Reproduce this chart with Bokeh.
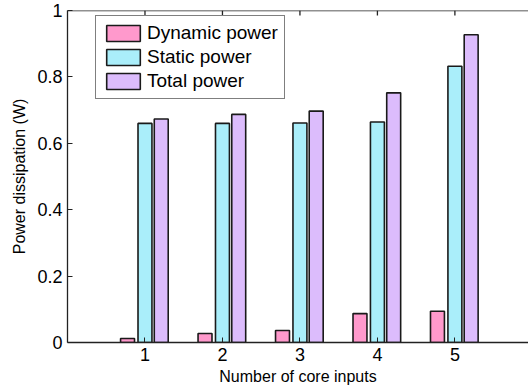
import numpy as np
from bokeh.plotting import figure
from bokeh.models import Range1d, FixedTicker, ColumnDataSource, Span
from bokeh.embed import file_html
from bokeh.resources import INLINE

cores = [1, 2, 3, 4, 5]
dynamic_power = [0.012, 0.027, 0.036, 0.087, 0.094]
static_power = [0.660, 0.660, 0.661, 0.664, 0.832]
total_power = [0.673, 0.687, 0.697, 0.752, 0.927]
series_names = ["Dynamic power", "Static power", "Total power"]
y_ticks = [0, 0.2, 0.4, 0.6, 0.8, 1]

FONT = "Liberation Sans"
colors = ["#ff99cc", "#aaeefa", "#dcbcfc"]
offsets = [-0.225, 0.0, 0.21]
bar_w = 0.18

p = figure(width=528, height=390, output_backend="svg", toolbar_location=None,
           x_range=Range1d(0, 5.95), y_range=Range1d(0, 1))
p.min_border_left = 67
p.min_border_right = 0
p.min_border_top = 10
p.min_border_bottom = 48
p.outline_line_color = None
p.grid.grid_line_color = None
p.background_fill_color = "white"
p.border_fill_color = "white"

x = np.array(cores, dtype=float)
for vals, name, col, off in zip([dynamic_power, static_power, total_power], series_names, colors, offsets):
    src = ColumnDataSource(dict(x=x + off, top=vals))
    p.vbar(x="x", top="top", width=bar_w, bottom=0, source=src, fill_color=col,
           line_color="#1a1a1a", line_width=1.6, legend_label=name)

# top frame line and inward ticks on the top edge
p.add_layout(Span(location=p.y_range.end, dimension="width", line_color="#222222", line_width=1.3))
p.ray(x=cores, y=[p.y_range.end] * len(cores), length=5, length_units="screen",
      angle=-np.pi / 2, line_color="#222222", line_width=1.3)

for ax in [p.xaxis[0], p.yaxis[0]]:
    ax.major_tick_in = 5
    ax.major_tick_out = 0
    ax.minor_tick_line_color = None
    ax.axis_line_color = "#222222"
    ax.axis_line_width = 1.3
    ax.major_tick_line_color = "#222222"
    ax.major_label_text_font = FONT
    ax.major_label_text_font_size = "18px"
    ax.major_label_text_color = "black"
    ax.axis_label_text_font = FONT
    ax.axis_label_text_font_style = "normal"
    ax.axis_label_text_color = "black"
    ax.axis_label_text_font_size = "16px"

p.xaxis[0].ticker = FixedTicker(ticks=cores)
p.yaxis[0].ticker = FixedTicker(ticks=y_ticks)
p.yaxis[0].major_label_overrides = {0: "0", 1: "1"}
p.xaxis[0].axis_label = "Number of core inputs"
p.xaxis[0].axis_label_standoff = 4
p.xaxis[0].major_label_standoff = 5
p.yaxis[0].axis_label = "Power dissipation (W)"
p.yaxis[0].axis_label_standoff = 6
p.yaxis[0].major_label_standoff = 5

lg = p.legend[0]
lg.location = (28, 243)
lg.border_line_color = "black"
lg.border_line_width = 1.5
lg.label_text_font = FONT
lg.label_text_font_size = "19px"
lg.label_text_color = "black"
lg.glyph_width = 42
lg.glyph_height = 20
lg.label_height = 20
lg.spacing = 2
lg.padding = 6
lg.margin = 0
lg.label_standoff = 3
lg.background_fill_alpha = 1

open("out.html", "w").write(file_html(p, INLINE))
